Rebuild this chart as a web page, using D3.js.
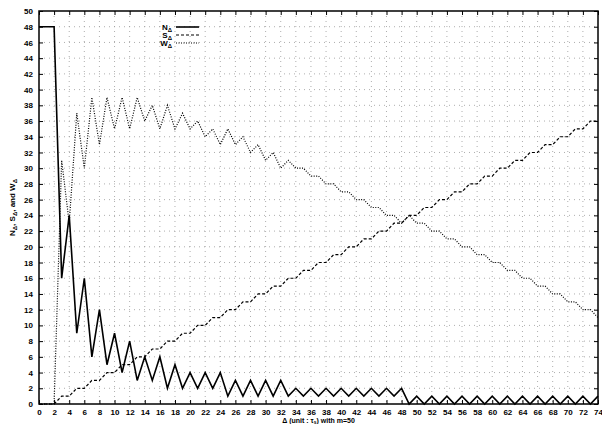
<!DOCTYPE html>
<html>
<head>
<meta charset="utf-8">
<script src="https://cdn.jsdelivr.net/npm/d3@7"></script>
<style>
  body { margin: 0; background: #fff; }
  text { font-family: "Liberation Sans", Arial, sans-serif; }
</style>
</head>
<body>
<svg id="chart" width="602" height="424"></svg>
<script>
// data, one value per integer delta (0..74)
const delta = d3.range(0, 75);
const nValues = [48, 48, 48, 16, 24, 9, 16, 6, 12, 5, 9, 4, 8, 3, 6, 3, 6, 2, 5, 2,
  4, 2, 4, 2, 4, 1, 3, 1, 3, 1, 3, 1, 3, 1, 2, 1, 2, 1, 2, 1,
  2, 1, 2, 1, 2, 1, 2, 1, 2, 0, 1, 0, 1, 0, 1, 0, 1, 0, 1, 0,
  1, 0, 1, 0, 1, 0, 1, 0, 1, 0, 1, 0, 1, 0, 1];
const sValues = [0, 0, 0, 1, 1, 2, 2, 3, 3, 4, 4, 5, 5, 6, 6, 7, 7, 8, 8, 9,
  9, 10, 10, 11, 11, 12, 12, 13, 13, 14, 14, 15, 15, 16, 16, 17, 17, 18, 18, 19,
  19, 20, 20, 21, 21, 22, 22, 23, 23, 24, 24, 25, 25, 26, 26, 27, 27, 28, 28, 29,
  29, 30, 30, 31, 31, 32, 32, 33, 33, 34, 34, 35, 35, 36, 36];
const wValues = [0, 0, 0, 31, 23, 37, 30, 39, 33, 39, 35, 39, 35, 39, 36, 38, 35, 38, 35, 37,
  35, 36, 34, 35, 33, 35, 33, 34, 32, 33, 31, 32, 30, 31, 30, 30, 29, 29, 28, 28,
  27, 27, 26, 26, 25, 25, 24, 24, 23, 24, 23, 23, 22, 22, 21, 21, 20, 20, 19, 19,
  18, 18, 17, 17, 16, 16, 15, 15, 14, 14, 13, 13, 12, 12, 11];
const xTicks = d3.range(0, 75, 2);
const yTicks = d3.range(0, 51, 2);

const svg = d3.select("#chart");
const plotL = 39, plotR = 598, plotT = 11, plotB = 404;

const x = d3.scaleLinear().domain([0, 74]).range([plotL, plotR]);
const y = d3.scaleLinear().domain([0, 50]).range([plotB, plotT]);

// dotted grid
const grid = svg.append("g").attr("stroke", "#999").attr("stroke-width", 0.8)
  .attr("stroke-dasharray", "1,4");
grid.selectAll(".gx").data(xTicks.slice(1, -1)).enter().append("line")
  .attr("x1", d => x(d)).attr("x2", d => x(d)).attr("y1", plotT).attr("y2", plotB);
grid.selectAll(".gy").data(yTicks.slice(1, -1)).enter().append("line")
  .attr("y1", d => y(d)).attr("y2", d => y(d)).attr("x1", plotL).attr("x2", plotR);

// axes, ticks pointing inward on every side
const styleAxis = g => {
  g.select(".domain").remove();
  g.selectAll("line").attr("stroke", "#000").attr("stroke-width", 1);
  g.selectAll("text").attr("font-size", 8).attr("font-weight", "bold").attr("fill", "#000");
};
svg.append("g").attr("transform", `translate(0,${plotB})`)
  .call(d3.axisBottom(x).tickValues(xTicks).tickSize(-4).tickPadding(5).tickFormat(d3.format("d")))
  .call(styleAxis);
svg.append("g").attr("transform", `translate(0,${plotT})`)
  .call(d3.axisTop(x).tickValues(xTicks).tickSize(-4).tickFormat(""))
  .call(styleAxis);
svg.append("g").attr("transform", `translate(${plotL},0)`)
  .call(d3.axisLeft(y).tickValues(yTicks).tickSize(-4).tickPadding(6).tickFormat(d3.format("d")))
  .call(styleAxis);
svg.append("g").attr("transform", `translate(${plotR},0)`)
  .call(d3.axisRight(y).tickValues(yTicks).tickSize(-4).tickFormat(""))
  .call(styleAxis);

svg.append("rect").attr("x", plotL).attr("y", plotT)
  .attr("width", plotR - plotL).attr("height", plotB - plotT)
  .attr("fill", "none").attr("stroke", "#000").attr("stroke-width", 1.5);

// series
const series = [
  { name: "N", values: nValues, dash: null, width: 1.6 },
  { name: "S", values: sValues, dash: "3,2", width: 1.2 },
  { name: "W", values: wValues, dash: "1,1.5", width: 1.2 }
];
const line = d3.line().x((d, i) => x(delta[i])).y(d => y(d));
series.forEach(s => {
  svg.append("path").datum(s.values)
    .attr("d", line)
    .attr("fill", "none")
    .attr("stroke", "#000")
    .attr("stroke-width", s.width)
    .attr("stroke-dasharray", s.dash);
});

// legend
const legend = svg.append("g");
series.forEach((s, i) => {
  const ly = 27 + i * 8;
  const t = legend.append("text").attr("x", 172).attr("y", ly + 3)
    .attr("text-anchor", "end").attr("font-size", 8).attr("font-weight", "bold");
  t.append("tspan").text(s.name);
  t.append("tspan").attr("font-size", 6).attr("dy", 2).text("Δ");
  legend.append("line").attr("x1", 176).attr("x2", 199).attr("y1", ly).attr("y2", ly)
    .attr("stroke", "#000").attr("stroke-width", s.width).attr("stroke-dasharray", s.dash);
});

// axis titles
const xt = svg.append("text").attr("x", (plotL + plotR) / 2).attr("y", 423)
  .attr("text-anchor", "middle").attr("font-size", 7).attr("font-weight", "bold");
xt.append("tspan").text("Δ (unit : τ");
xt.append("tspan").attr("font-size", 5).attr("dy", 1).text("s");
xt.append("tspan").attr("dy", -1).text(") with m=50");

const yt = svg.append("text").attr("transform", `translate(15,${(plotT + plotB) / 2}) rotate(-90)`)
  .attr("text-anchor", "middle").attr("font-size", 8).attr("font-weight", "bold");
yt.append("tspan").text("N");
yt.append("tspan").attr("font-size", 6).attr("dy", 2).text("Δ");
yt.append("tspan").attr("dy", -2).text(", S");
yt.append("tspan").attr("font-size", 6).attr("dy", 2).text("Δ");
yt.append("tspan").attr("dy", -2).text(", and W");
yt.append("tspan").attr("font-size", 6).attr("dy", 2).text("Δ");
</script>
</body>
</html>
